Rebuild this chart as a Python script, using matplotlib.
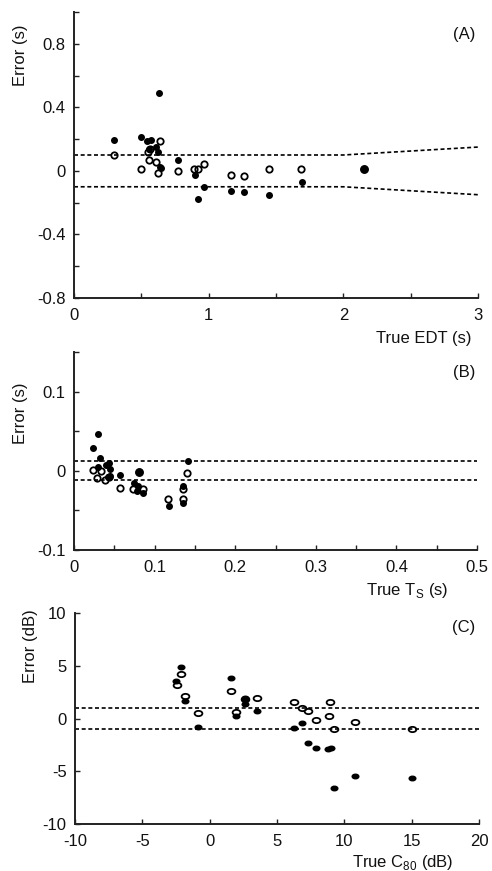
import numpy as np
import matplotlib
matplotlib.use("Agg")
import matplotlib.pyplot as plt
from matplotlib.path import Path
from matplotlib.ticker import FixedLocator, FuncFormatter

plt.rcParams['font.family'] = ['Liberation Sans', 'DejaVu Sans']
plt.rcParams['axes.unicode_minus'] = False
plt.rcParams['mathtext.fontset'] = 'custom'
plt.rcParams['mathtext.rm'] = 'Liberation Sans'

# ---------------- Panel A: EDT ----------------
edt_filled_x = [0.297, 0.497, 0.545, 0.569, 0.609, 0.559, 0.621, 0.639, 0.646, 0.772,
                0.899, 0.968, 0.918, 1.166, 1.265, 1.45, 1.69, 0.633]
edt_filled_y = [0.194, 0.2125, 0.1875, 0.194, 0.152, 0.140, 0.119, 0.025, 0.021, 0.071,
                -0.029, -0.10, -0.177, -0.127, -0.131, -0.15, -0.073, 0.49]
edt_big_x = [2.156]
edt_big_y = [0.01]
edt_open_x = [0.297, 0.497, 0.559, 0.549, 0.564, 0.609, 0.621, 0.636, 0.772, 0.894,
              0.918, 0.968, 1.163, 1.262, 1.448, 1.688]
edt_open_y = [0.102, 0.0125, 0.069, 0.119, 0.140, 0.056, -0.0125, 0.19, 0.002, 0.01,
              0.01, 0.046, -0.029, -0.035, 0.0125, 0.01]
edt_jnd_x = [0, 2, 3]
edt_jnd_y = [0.1, 0.1, 0.15]

# ---------------- Panel B: Ts ----------------
ts_filled_x = [0.0302, 0.024, 0.0327, 0.0294, 0.0397, 0.0439, 0.0451, 0.0451, 0.0426, 0.0571,
               0.0749, 0.0795, 0.0778, 0.0853, 0.118, 0.135, 0.135, 0.141]
ts_filled_y = [0.0469, 0.0289, 0.0163, 0.0046, 0.0071, 0.010, 0.0021, -0.0067, -0.0084, -0.0059,
               -0.0151, -0.0188, -0.0251, -0.0285, -0.0444, -0.041, -0.0192, 0.013]
ts_big_x = [0.0807]
ts_big_y = [-0.0013]
ts_open_x = [0.0232, 0.0281, 0.0331, 0.0389, 0.0439, 0.0571, 0.0737, 0.0853, 0.117, 0.135,
             0.135, 0.140]
ts_open_y = [0.0008, -0.0092, -0.0004, -0.0121, -0.0084, -0.0213, -0.023, -0.023, -0.0356, -0.0356,
             -0.0234, -0.0025]
ts_jnd = 0.012

# ---------------- Panel C: C80 ----------------
c80_filled_x = [-2.15, -2.48, -1.83, -0.84, 1.61, 1.93, 2.65, 2.65, 2.65, 3.49,
                6.29, 6.86, 7.33, 7.90, 8.76, 9.01, 9.26, 10.77, 15.0]
c80_filled_y = [4.88, 3.56, 1.66, -0.81, 3.88, 0.25, 1.97, 1.75, 1.38, 0.72,
                -0.88, -0.44, -2.28, -2.84, -2.88, -2.78, -6.59, -5.41, -5.66]
c80_open_x = [-2.45, -2.15, -1.86, -0.87, 1.61, 1.93, 2.65, 3.49, 6.26, 6.86,
              7.33, 7.90, 8.84, 8.96, 9.26, 10.77, 15.0]
c80_open_y = [3.13, 4.19, 2.16, 0.53, 2.63, 0.66, 1.81, 1.91, 1.59, 1.0,
              0.75, -0.13, 0.28, 1.53, -1.0, -0.31, -1.0]
c80_jnd = 1.0

W, H = 492, 871
FS = 12
fig = plt.figure(figsize=(W / 100, H / 100), dpi=100)


def add_ax(left, right, top, bottom):
    return fig.add_axes([left / W, 1 - bottom / H, (right - left) / W, (bottom - top) / H])


fmt = FuncFormatter(lambda v, p: f"{v:g}")


def style(ax, xlim, ylim, xmaj, xmin, ymaj, ymin):
    ax.set_xlim(*xlim)
    ax.set_ylim(*ylim)
    for s in ['top', 'right']:
        ax.spines[s].set_visible(False)
    for s in ['left', 'bottom']:
        ax.spines[s].set_linewidth(1.4)
        ax.spines[s].set_color('#222222')
    ax.xaxis.set_major_locator(FixedLocator(xmaj))
    ax.xaxis.set_minor_locator(FixedLocator(xmin))
    ax.yaxis.set_major_locator(FixedLocator(ymaj))
    ax.yaxis.set_minor_locator(FixedLocator(ymin))
    ax.xaxis.set_major_formatter(fmt)
    ax.yaxis.set_major_formatter(fmt)
    ax.tick_params(which='both', direction='in', length=3.5, width=1.0, color='#222222')
    ax.tick_params(axis='x', which='major', labelsize=FS, pad=7, labelcolor='#111111')
    ax.tick_params(axis='y', which='major', labelsize=FS, pad=6, labelcolor='#111111')
    ax.patch.set_visible(False)


ecirc = Path.unit_circle()
ell = Path(ecirc.vertices * np.array([1.0, 0.68]), ecirc.codes)

dash = (0, (2.4, 1.6))
LW = 1.2
fill_kw = dict(linestyle='none', marker='o', markersize=4.0, color='black', zorder=3)
open_kw = dict(linestyle='none', marker='o', markersize=4.6, markerfacecolor='none',
               markeredgecolor='black', markeredgewidth=1.3, zorder=3)

# Panel A
axA = add_ax(74, 478, 12, 298)
style(axA, (0, 3), (-0.8, 1.0), [0, 1, 2, 3], [0.5, 1.5, 2.5],
      [-0.8, -0.4, 0, 0.4, 0.8], [-0.6, -0.2, 0.2, 0.6, 1.0])
axA.plot(edt_jnd_x, edt_jnd_y, color='black', lw=LW, linestyle=dash)
axA.plot(edt_jnd_x, [-v for v in edt_jnd_y], color='black', lw=LW, linestyle=dash)
axA.plot(edt_open_x, edt_open_y, **open_kw)
axA.plot(edt_filled_x, edt_filled_y, **fill_kw)
axA.plot(edt_big_x, edt_big_y, **{**fill_kw, 'markersize': 5.4})

# Panel B
axB = add_ax(74, 477, 352, 550)
style(axB, (0, 0.5), (-0.1, 0.15), [0, 0.1, 0.2, 0.3, 0.4, 0.5],
      [0.05, 0.15, 0.25, 0.35, 0.45], [-0.1, 0, 0.1], [-0.05, 0.05, 0.15])
axB.axhline(ts_jnd, color='black', lw=LW, linestyle=dash)
axB.axhline(-ts_jnd, color='black', lw=LW, linestyle=dash)
axB.plot(ts_open_x, ts_open_y, **open_kw)
axB.plot(ts_filled_x, ts_filled_y, **fill_kw)
axB.plot(ts_big_x, ts_big_y, **{**fill_kw, 'markersize': 5.4})

# Panel C
axC = add_ax(75, 479, 613, 824)
style(axC, (-10, 20), (-10, 10), [-10, -5, 0, 5, 10, 15, 20], [],
      [-10, -5, 0, 5, 10], [])
axC.axhline(c80_jnd, color='black', lw=LW, linestyle=dash)
axC.axhline(-c80_jnd, color='black', lw=LW, linestyle=dash)
axC.plot(c80_open_x, c80_open_y, **{**open_kw, 'marker': ell, 'markersize': 5.6})
axC.plot(c80_filled_x, c80_filled_y, **{**fill_kw, 'marker': ell, 'markersize': 4.8})


def ftext(x, y, s, **kw):
    fig.text(x / W, 1 - y / H, s, fontsize=FS, color='#111111', **kw)


ftext(20, 55, 'Error (s)', rotation=90, ha='center', va='center')
ftext(20, 413, 'Error (s)', rotation=90, ha='center', va='center')
ftext(31, 646, 'Error (dB)', rotation=90, ha='center', va='center')

ftext(471, 339, 'True EDT (s)', ha='right', va='center')
ftext(448, 590, r'True T$_\mathrm{S}$ (s)', ha='right', va='center')
ftext(453, 862, r'True C$_{80}$ (dB)', ha='right', va='center')

ftext(464, 34, '(A)', ha='center', va='center')
ftext(464, 372, '(B)', ha='center', va='center')
ftext(464, 627, '(C)', ha='center', va='center')

fig.savefig('out.png', dpi=100)
